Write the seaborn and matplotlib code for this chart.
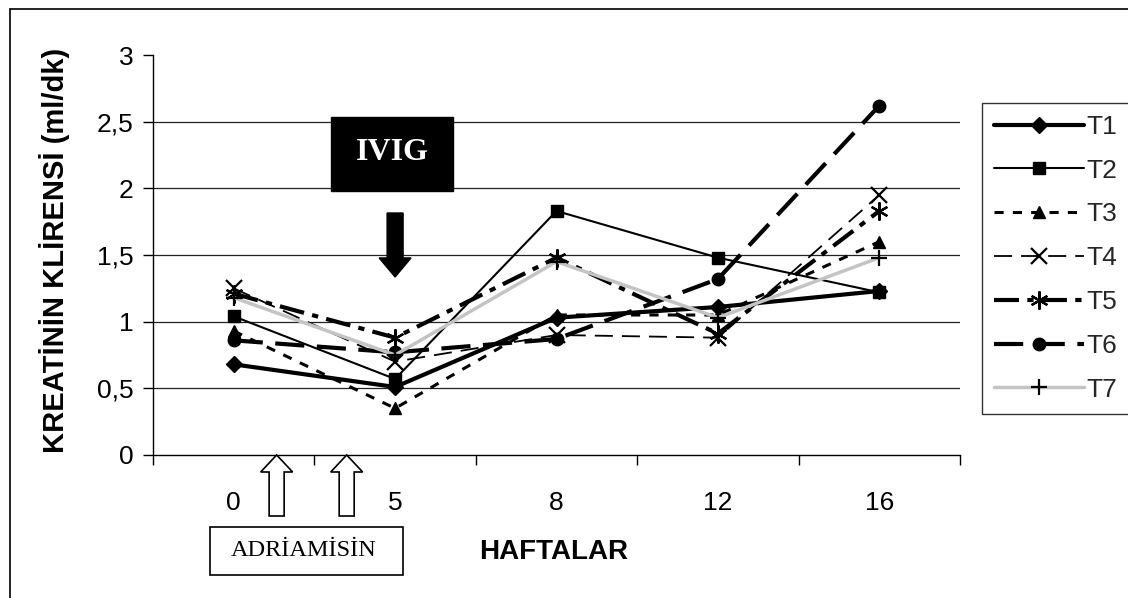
import numpy as np
import pandas as pd
import matplotlib
matplotlib.use("Agg")
import matplotlib.pyplot as plt
from matplotlib.patches import FancyArrow, Rectangle
from matplotlib.lines import Line2D
import seaborn as sns

# ---- data ----
weeks = ["0", "5", "8", "12", "16"]
series_names = ["T1", "T2", "T3", "T4", "T5", "T6", "T7"]
T1 = [0.68, 0.51, 1.03, 1.11, 1.23]
T2 = [1.04, 0.57, 1.83, 1.48, 1.22]
T3 = [0.93, 0.35, 1.05, 1.05, 1.60]
T4 = [1.25, 0.70, 0.90, 0.88, 1.95]
T5 = [1.21, 0.88, 1.48, 0.91, 1.83]
T6 = [0.86, 0.77, 0.87, 1.32, 2.62]
T7 = [1.18, 0.75, 1.45, 1.03, 1.48]
yticks = [0, 0.5, 1, 1.5, 2, 2.5, 3]
ytick_labels = ["0", "0,5", "1", "1,5", "2", "2,5", "3"]

values = [T1, T2, T3, T4, T5, T6, T7]
rows = []
for name, vals in zip(series_names, values):
    for i, (w, v) in enumerate(zip(weeks, vals)):
        rows.append({"pos": i, "week": w, "value": v, "series": name})
df = pd.DataFrame(rows)

sns.set_theme(style="white")
plt.rcParams["font.family"] = ["Liberation Sans", "DejaVu Sans"]

W, H = 1128, 598
fig = plt.figure(figsize=(W / 100, H / 100), dpi=100)
fx = lambda px: px / W
fy = lambda py: 1 - py / H

ax = fig.add_axes([fx(153), fy(455), fx(960) - fx(153), fy(55) - fy(455)])

styles = {
    "T1": dict(color="black", lw=3.0, ls="-", marker="D", ms=8, mew=1),
    "T2": dict(color="black", lw=1.5, ls="-", marker="s", ms=8, mew=1),
    "T3": dict(color="black", lw=2.2, ls=(0, (3, 3)), marker="^", ms=9, mew=1),
    "T4": dict(color="black", lw=1.3, ls=(0, (10, 5)), marker="x", ms=11, mew=1.6),
    "T5": dict(color="black", lw=3.0, ls=(0, (6, 2, 1.5, 2)), marker=(6, 2, 0), ms=13, mew=1.6),
    "T6": dict(color="black", lw=3.0, ls=(0, (7, 3)), marker="o", ms=9, mew=1),
    "T7": dict(color="#c4c4c4", lw=2.5, ls="-", marker="+", ms=11, mew=1.6),
}

for name in series_names:
    st = styles[name]
    sub = df[df["series"] == name]
    sns.lineplot(data=sub, x="pos", y="value", ax=ax, sort=False,
                 color=st["color"], linewidth=st["lw"], linestyle=st["ls"],
                 marker=st["marker"], markersize=st["ms"], markeredgewidth=st["mew"],
                 markerfacecolor="black", markeredgecolor="black",
                 label=name, legend=False, errorbar=None, zorder=3)

# axes
ax.set_xlim(-0.5, len(weeks) - 0.5)
ax.set_ylim(0, 3)
ax.set_xticks(range(len(weeks)))
ax.set_xticklabels(weeks)
ax.set_xticks(np.arange(-0.5, len(weeks), 1.0), minor=True)
ax.set_yticks(yticks)
ax.set_yticklabels(ytick_labels)
ax.set_xlabel("")
ax.set_ylabel("")
ax.tick_params(axis="x", which="major", length=0, pad=26, labelsize=19, colors="black")
ax.tick_params(axis="x", which="minor", length=7, width=1, direction="out", bottom=True, color="black")
ax.tick_params(axis="y", which="major", length=7, width=1, direction="out", left=True,
               pad=7, labelsize=19, colors="black")
for s in ["top", "right"]:
    ax.spines[s].set_visible(False)
for s in ["left", "bottom"]:
    ax.spines[s].set_color("black")
    ax.spines[s].set_linewidth(1.0)
ax.yaxis.grid(True, color="#222222", linewidth=0.9)
ax.xaxis.grid(False)
gl = ax.get_ygridlines()
gl[-1].set_visible(False)
gl[0].set_visible(False)
ax.set_axisbelow(True)

# legend
handles = [Line2D([0], [0], color=styles[n]["color"], lw=styles[n]["lw"], ls=styles[n]["ls"],
                  marker=styles[n]["marker"], ms=styles[n]["ms"], mew=styles[n]["mew"],
                  mfc="black", mec="black") for n in series_names]
leg = fig.legend(handles, series_names, loc="upper left",
                 bbox_to_anchor=(fx(982), fy(103)), bbox_transform=fig.transFigure,
                 fontsize=19, frameon=True, fancybox=False, shadow=False,
                 handlelength=3.4, handletextpad=0.1, labelspacing=0.75,
                 borderpad=0.45, borderaxespad=0)
leg.get_frame().set_edgecolor("black")
leg.get_frame().set_linewidth(1.0)

# axis titles
fig.text(fx(55), fy(250), "KREATİNİN KLİRENSİ (ml/dk)", rotation=90, ha="center", va="center",
         fontsize=21, fontweight="bold", color="black")
fig.text(fx(554), fy(552), "HAFTALAR", ha="center", va="center",
         fontsize=20, fontweight="bold", color="black")

# IVIG box
fig.patches.append(Rectangle((fx(331), fy(191)), fx(453) - fx(331), fy(117) - fy(191),
                             transform=fig.transFigure, facecolor="black", edgecolor="black"))
fig.text(fx(392), fy(152), "IVIG", ha="center", va="center", fontsize=23, fontweight="bold",
         color="white", family=["Liberation Serif", "DejaVu Serif"])

# IVIG down arrow (data coords, category 5 -> position 1)
ax.add_patch(FancyArrow(1.0, 1.815, 0, -0.48, width=0.099, head_width=0.198,
                        head_length=0.143, length_includes_head=True,
                        facecolor="black", edgecolor="black", zorder=5, clip_on=False))

# hollow up arrows (adriamisin doses)
for xa in [0.266, 0.70]:
    ax.add_patch(FancyArrow(xa, -0.4575, 0, 0.4575, width=0.093, head_width=0.198,
                            head_length=0.1275, length_includes_head=True,
                            facecolor="white", edgecolor="black", lw=1.2, zorder=5, clip_on=False))

# ADRIAMISIN box
fig.patches.append(Rectangle((fx(210), fy(575)), fx(403) - fx(210), fy(527) - fy(575),
                             transform=fig.transFigure, facecolor="white", edgecolor="black", lw=1.2))
fig.text(fx(304), fy(551), "ADRİAMİSİN", ha="center", va="center", fontsize=17.5,
         color="black", family=["Liberation Serif", "DejaVu Serif"])

# outer frame (top & left)
fig.add_artist(Line2D([fx(10), 1.0], [fy(9), fy(9)], transform=fig.transFigure, color="black", lw=1.2))
fig.add_artist(Line2D([fx(10), fx(10)], [fy(9), 0.0], transform=fig.transFigure, color="black", lw=1.2))

fig.savefig("out.png", dpi=100, facecolor="white")
